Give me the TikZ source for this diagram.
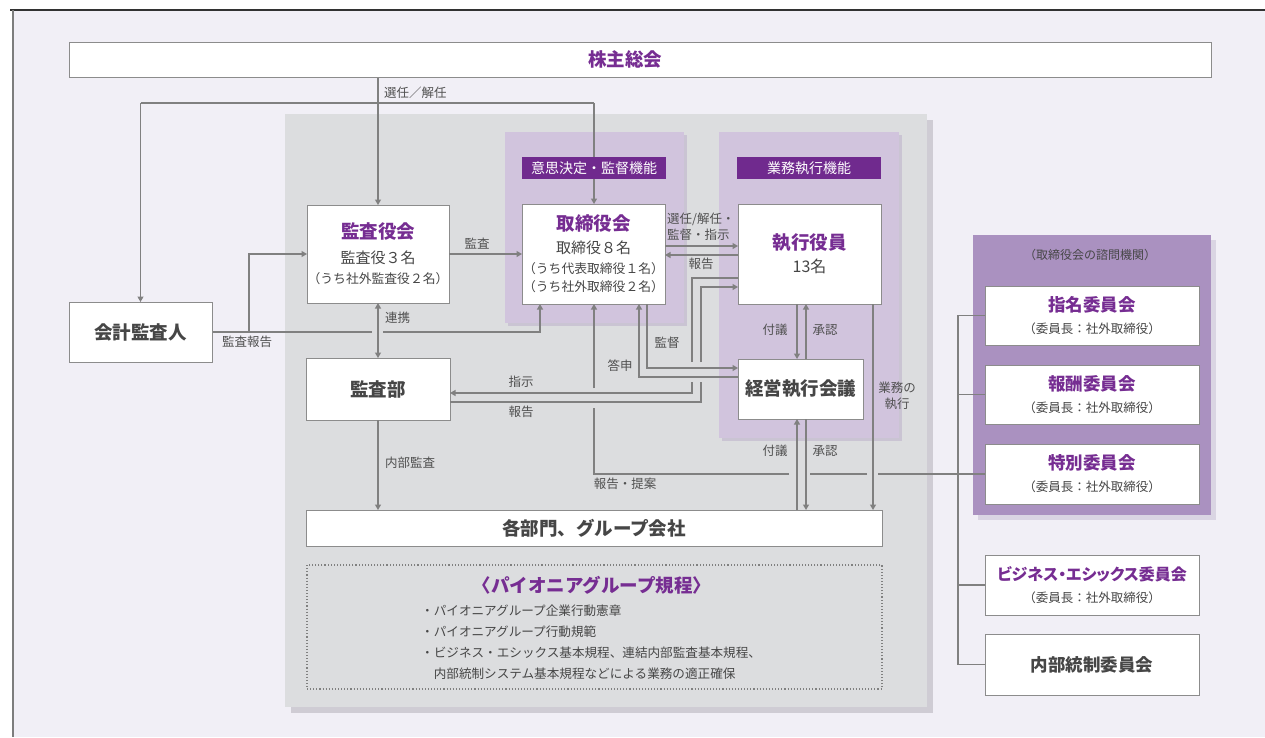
\documentclass[tikz,border=0pt]{standalone}
\usepackage{fontspec}
\setmainfont{Noto Sans CJK JP}
\usetikzlibrary{arrows.meta}
\definecolor{bg}{RGB}{241,239,246}
\definecolor{framedark}{RGB}{50,50,50}
\definecolor{frameleft}{RGB}{125,125,125}
\definecolor{panelgray}{RGB}{220,221,223}
\definecolor{panelshadow}{RGB}{207,204,212}
\definecolor{lightpurple}{RGB}{209,196,221}
\definecolor{lpshadow}{RGB}{202,196,211}
\definecolor{darkpurple}{RGB}{112,42,142}
\definecolor{midpurple}{RGB}{170,145,192}
\definecolor{mpshadow}{RGB}{218,213,227}
\definecolor{titlepurple}{RGB}{118,45,146}
\definecolor{lineg}{RGB}{128,128,128}
\definecolor{boxline}{RGB}{140,140,140}
\definecolor{txtgray}{RGB}{70,70,70}
\definecolor{lblgray}{RGB}{80,80,80}
\newcommand{\ttlf}{\bfseries\color{titlepurple}\fontsize{18.5}{22}\selectfont}
\newcommand{\cttlf}{\bfseries\color{titlepurple}\fontsize{17.5}{22}\selectfont}
\newcommand{\bizf}{\bfseries\color{titlepurple}\fontsize{16}{22}\selectfont}
\newcommand{\subf}{\fontsize{15}{20}\selectfont}
\newcommand{\smf}{\fontsize{12.8}{20}\selectfont}
\newcommand{\csubf}{\fontsize{12.5}{20}\selectfont}
\tikzset{
  box/.style={draw=boxline, fill=white, line width=1pt, inner sep=0pt, outer sep=0pt,
    align=center, text=txtgray, font=\fontsize{13}{20}\selectfont},
  hdr/.style={fill=darkpurple, inner sep=0pt, outer sep=0pt, text=white,
    minimum width=144pt, minimum height=22pt, font=\fontsize{14}{16}\selectfont},
  conn/.style={draw=lineg, line width=1.2pt},
  arr/.style={conn, -{Triangle[width=6pt,length=5.5pt]}},
  darr/.style={conn, {Triangle[width=6pt,length=5.5pt]}-{Triangle[width=6pt,length=5.5pt]}},
  lbl/.style={text=lblgray, inner sep=0pt, font=\fontsize{12.5}{16}\selectfont},
}
\begin{document}
\begin{tikzpicture}[x=1pt,y=-1pt]
\useasboundingbox (0,0) rectangle (1265,737);
% background
\fill[white] (0,0) rectangle (1265,737);
\fill[bg] (13,10) rectangle (1265,737);
\draw[framedark, line width=1.2pt] (10,10) -- (1265,10);
\draw[frameleft, line width=1.5pt] (13,10) -- (13,737);
% panels
\fill[panelshadow] (291,120) rectangle (933,713);
\fill[panelgray] (285,114) rectangle (927,707);
\fill[lpshadow] (508,135) rectangle (687,326);
\fill[lightpurple] (505,132) rectangle (684,323);
\fill[lpshadow] (722,135) rectangle (902,441);
\fill[lightpurple] (719,132) rectangle (899,438);
\fill[mpshadow] (978,240) rectangle (1216,520);
\fill[midpurple] (973,235) rectangle (1211,515);

% coordinates
\coordinate (sel1) at (140.5,103);
\coordinate (sel2) at (594,103);
\coordinate (ka1) at (249,332);
\coordinate (ka2) at (540,332);
\coordinate (br) at (958,0);

% connectors (drawn before nodes)
\draw[arr] (378,77) -- (378,205);
\draw[conn] (sel1) -- (sel2);
\draw[arr] (sel1) -- (140.5,302);
\draw[arr] (sel2) -- (594,204);
% 会計監査人
\draw[arr] (212,332) -- (ka1) -- (249,254) -- (307,254);
\draw[conn] (ka1) -- (372,332);
\draw[arr] (383,332) -- (ka2) -- (540,304);

% nodes
\node[box, minimum width=1142pt, minimum height=35pt,
  label={[font=\ttlf, xshift=-15pt]center:株主総会}] (kabu) at (640,59.5) {};
\node[box, minimum width=143pt, minimum height=60pt, font=\ttlf] (kaikei) at (140.5,332) {会計監査人};
\node[box, minimum width=142pt, minimum height=98pt] (kansayaku) at (378,254)
  {{\ttlf 監査役会}\\[5pt]{\subf 監査役３名}\\{\smf （うち社外監査役２名）}};
\node[box, minimum width=144pt, minimum height=62pt, font=\ttlf] (kansabu) at (378,389) {監査部};
\node[box, minimum width=576pt, minimum height=36pt, font=\ttlf] (kakubu) at (594,528) {各部門、グループ会社};
\node[box, minimum width=143pt, minimum height=100pt] (tori) at (593.5,254)
  {{\ttlf 取締役会}\\[3pt]{\subf 取締役８名}\\{\smf （うち代表取締役１名）}\\[-2pt]{\smf （うち社外取締役２名）}};
\node[box, minimum width=143pt, minimum height=100pt] (shikko) at (809.5,254)
  {{\ttlf 執行役員}\\[3pt]{\fontsize{16}{20}\selectfont 13名}};
\node[box, minimum width=125pt, minimum height=60pt, font=\ttlf] (keiei) at (800.5,389) {経営執行会議};

\node[hdr] (h1) at (594,168) {意思決定・監督機能};
\node[hdr] (h2) at (809,168) {業務執行機能};

% committees
\node[text=txtgray, font=\fontsize{12}{14}\selectfont, inner sep=0pt] (shimon) at (1090,255) {（取締役会の諮問機関）};
\node[box, minimum width=214pt, minimum height=59pt] (shimei) at (1092,315.5)
  {{\cttlf 指名委員会}\\[2pt]{\csubf （委員長：社外取締役）}};
\node[box, minimum width=214pt, minimum height=59pt] (hoshu) at (1092,394.5)
  {{\cttlf 報酬委員会}\\[2pt]{\csubf （委員長：社外取締役）}};
\node[box, minimum width=214pt, minimum height=60pt] (toku) at (1092,474)
  {{\cttlf 特別委員会}\\[2pt]{\csubf （委員長：社外取締役）}};
\node[box, minimum width=214pt, minimum height=60pt] (biz) at (1092,585)
  {{\bizf\addfontfeature{RawFeature=+palt}ビジネス・エシックス委員会}\\[2pt]{\csubf （委員長：社外取締役）}};
\node[box, minimum width=214pt, minimum height=61pt, font=\cttlf] (naibu) at (1092,664.5) {内部統制委員会};

% rules box
\node[draw=lineg, dotted, line width=1.1pt, inner sep=0pt, outer sep=0pt,
  minimum width=575pt, minimum height=124pt] (rules) at (594.5,627) {};
\node[inner sep=0pt, font=\ttlf] (rulestitle) at (592,585) {〈パイオニアグループ規程〉};
\node[inner sep=0pt, anchor=west, align=left, text=txtgray, font=\fontsize{12.6}{21}\selectfont] (ruleslist) at (421,642.5)
  {・パイオニアグループ企業行動憲章\\・パイオニアグループ行動規範\\・ビジネス・エシックス基本規程、連結内部監査基本規程、\\　内部統制システム基本規程などによる業務の適正確保};

% connectors between nodes
\draw[darr] (kansayaku.south) -- (kansabu.north);
\draw[arr] (kansayaku.east) -- (tori.west);
\draw[arr] ([yshift=8pt]tori.east) -- ([yshift=8pt]shikko.west);
\draw[arr] ([yshift=-1pt]shikko.west) -- ([yshift=-1pt]tori.east);
% 指示
\draw[conn] ([yshift=-24pt]shikko.west) -| (692,362);
\draw[arr] (692,382) |- ([yshift=-4pt]kansabu.east);
% 報告 from 監査部
\draw[conn] ([yshift=-13pt]kansabu.east) -| (701,382);
\draw[arr] (701,362) |- ([yshift=-33pt]shikko.west);
% 監督
\draw[arr] ([xshift=53.5pt]tori.south) |- ([yshift=21pt]keiei.west);
% 答申
\draw[arr] ([yshift=12pt]keiei.west) -| ([xshift=45.5pt]tori.south);
% 付議・承認 upper
\draw[arr] ([xshift=-12.5pt]shikko.south) -- ([xshift=-3.5pt]keiei.north);
\draw[arr] ([xshift=5.5pt]keiei.north) -- ([xshift=-3.5pt]shikko.south);
% 付議・承認 lower
\draw[arr] ([xshift=203pt]kakubu.north) -- ([xshift=-3.5pt]keiei.south);
\draw[arr] ([xshift=5.5pt]keiei.south) -- ([xshift=212pt]kakubu.north);
% 業務の執行
\draw[arr] ([xshift=63.5pt]shikko.south) -- ([xshift=279pt]kakubu.north);
% 内部監査
\draw[arr] (kansabu.south) -- (kansabu.south |- kakubu.north);
% 報告・提案
\draw[conn] (toku.west) -- (878,474);
\draw[conn] (867,474) -- (810,474);
\draw[conn] (789,474) -| (594,408);
\draw[arr] (594,388) -- ([xshift=0.5pt]tori.south);
% committee bracket
\draw[conn, line width=1.1pt] (shimei.west) -- (shimei.west -| br) -- (naibu.west -| br) -- (naibu.west);
\draw[conn, line width=1.1pt] (hoshu.west) -- (hoshu.west -| br);
\draw[conn, line width=1.1pt] (biz.west) -- (biz.west -| br);

% labels
\node[lbl, anchor=west] (l1) at (384,93) {選任／解任};
\node[lbl] (l2) at (247,342) {監査報告};
\node[lbl, anchor=west] (l3) at (385,318) {連携};
\node[lbl] (l4) at (477,244) {監査};
\node[lbl, anchor=west, align=left] (l5) at (667,227) {選任/解任・\\監督・指示};
\node[lbl] (l6) at (701,264) {報告};
\node[lbl] (l7) at (521,382) {指示};
\node[lbl] (l8) at (521,412) {報告};
\node[lbl] (l9) at (667,343) {監督};
\node[lbl] (l10) at (620,366) {答申};
\node[lbl] (l11) at (775,330) {付議};
\node[lbl] (l12) at (825,330) {承認};
\node[lbl] (l13) at (775,451) {付議};
\node[lbl] (l14) at (825,451) {承認};
\node[lbl, align=center] (l15) at (897,396) {業務の\\執行};
\node[lbl, anchor=west] (l16) at (385,463) {内部監査};
\node[lbl] (l17) at (625,484) {報告・提案};
\end{tikzpicture}
\end{document}
